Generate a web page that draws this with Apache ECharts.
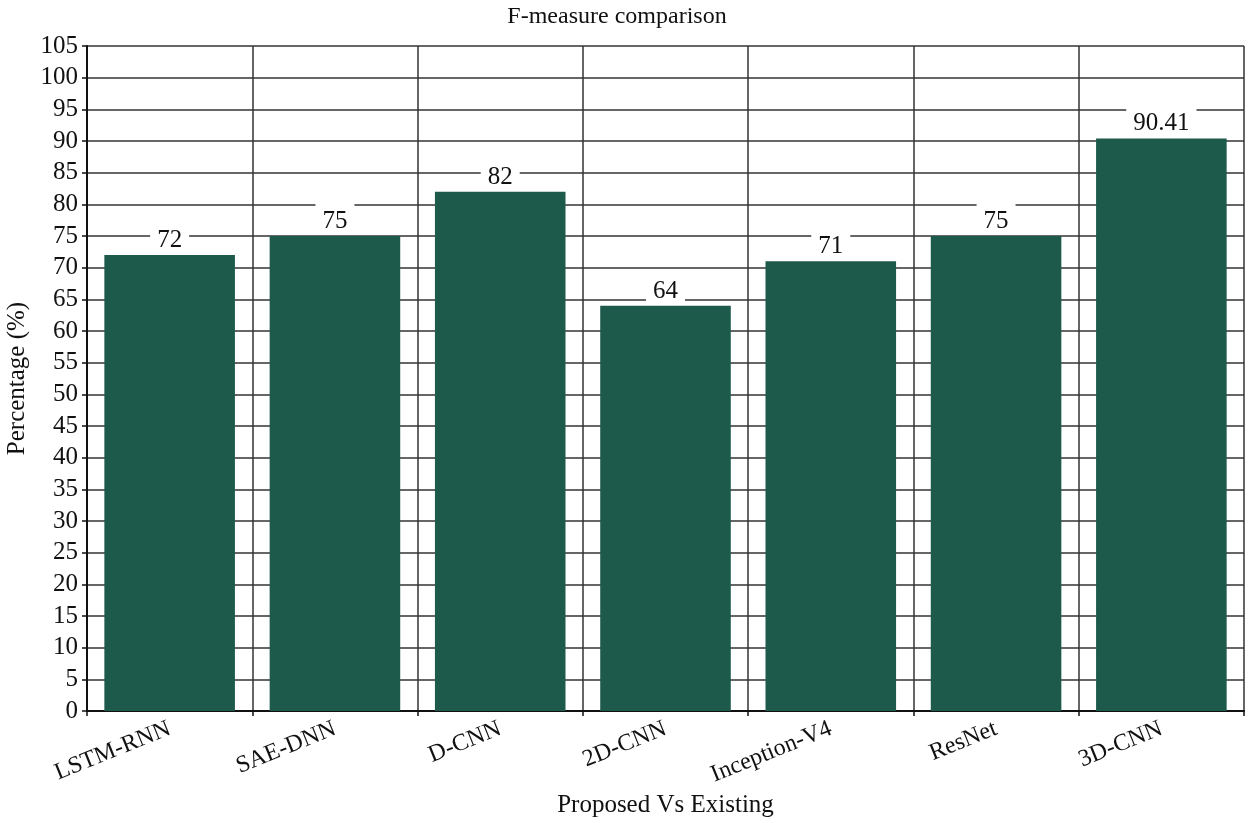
<!DOCTYPE html>
<html>
<head>
<meta charset="utf-8">
<script src="https://cdn.jsdelivr.net/npm/echarts@6/dist/echarts.min.js"></script>
<style>html,body{margin:0;padding:0;background:#fff;}#c{width:1250px;height:823px;}</style>
</head>
<body>
<div id="c"></div>
<script>
const categories = ['LSTM-RNN', 'SAE-DNN', 'D-CNN', '2D-CNN', 'Inception-V4', 'ResNet', '3D-CNN'];
const fMeasure = [72, 75, 82, 64, 71, 75, 90.41];
const yTicks = {min: 0, max: 105, interval: 5};

const FONT = '"Liberation Serif", "Times New Roman", serif';
const chart = echarts.init(document.getElementById('c'), null, {renderer: 'canvas'});
chart.setOption({
  backgroundColor: '#ffffff',
  animation: false,
  title: {
    text: 'F-measure comparison',
    left: 612, top: 0, textAlign: 'center',
    textStyle: {fontFamily: FONT, fontSize: 24, fontWeight: 'normal', color: '#111'}
  },
  grid: {left: 87, right: 6, top: 46, bottom: 112, containLabel: false, outerBoundsMode: 'none'},
  xAxis: {
    type: 'category',
    data: categories,
    name: 'Proposed Vs Existing',
    nameLocation: 'middle',
    nameGap: 80,
    nameTextStyle: {fontFamily: FONT, fontSize: 25, color: '#111'},
    axisLine: {lineStyle: {color: '#111', width: 2}},
    axisTick: {show: true, length: 5, lineStyle: {color: '#111', width: 1.5}},
    axisLabel: {rotate: 22, fontFamily: FONT, fontSize: 24, color: '#111', margin: 17},
    splitLine: {show: true, lineStyle: {color: '#333', width: 1.5}}
  },
  yAxis: {
    type: 'value',
    min: yTicks.min, max: yTicks.max, interval: yTicks.interval,
    name: 'Percentage (%)',
    nameLocation: 'middle',
    nameGap: 57,
    nameTextStyle: {fontFamily: FONT, fontSize: 25, color: '#111'},
    axisLine: {show: true, lineStyle: {color: '#111', width: 2}},
    axisTick: {show: true, length: 5, lineStyle: {color: '#111', width: 1.5}},
    axisLabel: {fontFamily: FONT, fontSize: 25, color: '#111', margin: 9},
    splitLine: {show: true, lineStyle: {color: '#333', width: 1.5}}
  },
  series: [{
    type: 'bar',
    data: fMeasure,
    barCategoryGap: '21%',
    itemStyle: {color: '#1e5a4b'},
    label: {
      show: true,
      position: 'top',
      distance: 1,
      fontFamily: FONT,
      fontSize: 25,
      color: '#111',
      backgroundColor: '#ffffff',
      padding: [6, 7, 1, 7]
    }
  }]
});
</script>
</body>
</html>
